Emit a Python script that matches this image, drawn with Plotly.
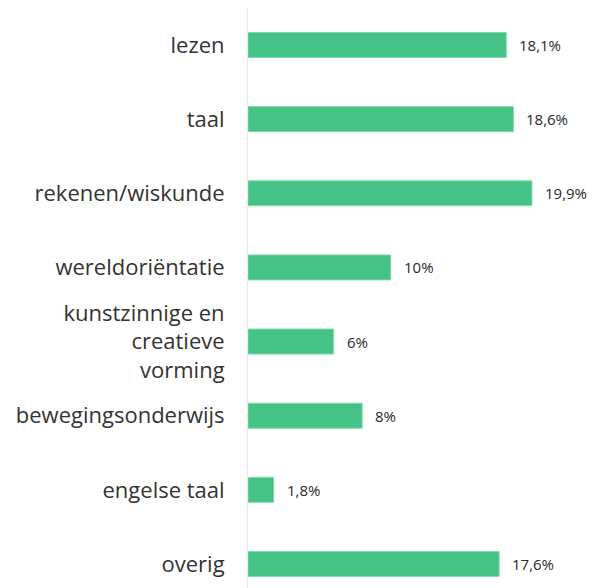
import plotly.graph_objects as go

categories = ["lezen", "taal", "rekenen/wiskunde", "wereldoriëntatie",
              "kunstzinnige en<br>creatieve<br>vorming", "bewegingsonderwijs",
              "engelse taal", "overig"]
values = [18.1, 18.6, 19.9, 10, 6, 8, 1.8, 17.6]
value_labels = ["18,1%", "18,6%", "19,9%", "10%", "6%", "8%", "1,8%", "17,6%"]

idx = list(range(len(categories)))

fig = go.Figure()
fig.add_trace(go.Bar(
    y=idx, x=values, orientation="h", width=0.337,
    marker=dict(color="#45c386", line=dict(color="#80d9ab", width=1)),
    hoverinfo="skip",
))

for i, (v, t) in enumerate(zip(values, value_labels)):
    fig.add_annotation(x=v, y=i, text=t, showarrow=False, xanchor="left",
                       xshift=11, font=dict(family="Open Sans", size=15, color="#2a2a2a"))

fig.update_layout(
    width=608, height=588,
    margin=dict(l=240, r=0, t=0, b=0),
    plot_bgcolor="white", paper_bgcolor="white",
    showlegend=False,
    xaxis=dict(range=[0, 25.79], visible=False, fixedrange=True),
    yaxis=dict(range=[7.432, -0.499], tickmode="array", tickvals=idx, ticktext=categories,
               showgrid=False, zeroline=False, showline=True, linecolor="#ece6ec", linewidth=1,
               ticks="", ticklabelstandoff=18,
               tickfont=dict(family="Open Sans", size=22, color="#333333")),
)

fig.write_html("out.html")
